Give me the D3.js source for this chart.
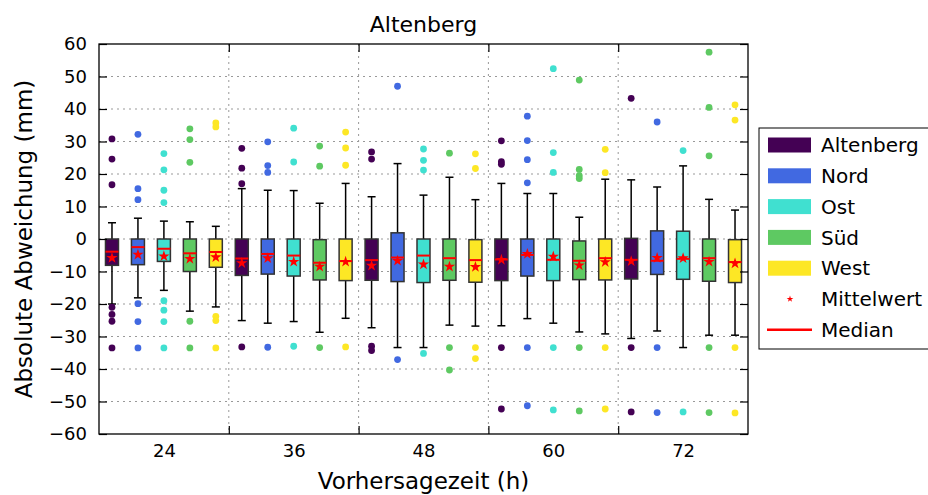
<!DOCTYPE html>
<html>
<head>
<meta charset="utf-8">
<script src="https://cdn.jsdelivr.net/npm/d3@7"></script>
<style>
  body { margin: 0; background: #fff; }
  svg text { font-family: "DejaVu Sans", sans-serif; fill: #000; }
</style>
</head>
<body>
<div id="chart"></div>
<script>
// data
var hours = [24, 36, 48, 60, 72];
var stations = ["Altenberg", "Nord", "Ost", "Süd", "West"];
var colors = ["#440154", "#4169e1", "#40e0d0", "#5ec962", "#fde725"];
var yTicks = [-60, -50, -40, -30, -20, -10, 0, 10, 20, 30, 40, 50, 60];

// one row per station, one column per lead time
var q3 = [
	[0, 0, 0, 0, 0.2],
	[0, 0, 1.9, 0, 2.5],
	[0, 0, 0, 0, 2.4],
	[0, -0.2, 0, -0.6, 0],
	[0, 0, -0.2, 0, -0.2]
];
var q1 = [
	[-8.1, -11.2, -12.7, -12.8, -12.3],
	[-7.9, -10.8, -13.1, -11.4, -10.9],
	[-6.9, -11.4, -13.4, -12.8, -12.4],
	[-10.0, -12.6, -12.7, -12.5, -13.0],
	[-8.7, -12.8, -13.3, -12.6, -13.4]
];
var medians = [
	[-3.9, -6.0, -6.5, -6.3, -6.4],
	[-2.5, -4.6, -5.7, -4.9, -6.7],
	[-3.0, -5.1, -5.1, -6.4, -6.1],
	[-4.4, -7.3, -5.9, -6.7, -5.9],
	[-4.0, -6.8, -6.5, -5.9, -7.1]
];
var means = [
	[-5.8, -7.4, -8.2, -6.4, -6.8],
	[-4.8, -5.9, -6.7, -4.6, -5.8],
	[-5.3, -7.0, -7.8, -5.4, -5.9],
	[-6.1, -8.5, -8.5, -8.1, -7.0],
	[-5.6, -7.0, -8.6, -7.1, -7.5]
];
var whiskHigh = [
	[5.0, 15.5, 13.0, 17.1, 18.2],
	[6.4, 15.0, 23.2, 14.0, 16.0],
	[5.5, 14.9, 13.5, 14.0, 22.5],
	[5.3, 11.0, 19.0, 6.7, 12.2],
	[3.9, 17.1, 12.1, 18.4, 8.9]
];
var whiskLow = [
	[-20.0, -25.1, -27.3, -26.7, -30.6],
	[-18.1, -25.9, -33.4, -24.5, -28.3],
	[-15.8, -25.4, -33.4, -25.9, -33.4],
	[-22.2, -28.7, -26.5, -28.6, -29.6],
	[-20.9, -24.4, -26.8, -29.2, -29.6]
];
var outliers = [
	[[30.8, 24.6, 16.7, -21.0, -23.2, -25.3, -33.5], [27.9, 21.8, 17.0, -33.2], [26.8, 24.6, -33.0, -34.3], [30.2, 23.8, 23.0, -33.4, -52.3], [43.3, -33.4, -53.2]],
	[[32.2, 15.5, 12.1, -19.9, -25.4, -33.5], [29.9, 22.6, 20.5, -33.3], [47.0, -37.1], [37.8, 30.3, 24.4, 17.3, -33.4, -51.3], [36.0, -33.4, -53.4]],
	[[26.3, 21.3, 15.0, 11.2, -19.0, -21.9, -25.4, -33.5], [34.1, 23.7, -33.0], [27.7, 24.2, 21.2, -35.2], [52.4, 26.6, 20.5, -33.4, -52.6], [27.2, -53.2]],
	[[33.9, 30.6, 23.6, -25.3, -33.5], [28.6, 22.4, -33.4], [26.4, -33.4, -40.3], [48.9, 21.4, 19.5, 18.6, -33.4, -52.9], [57.5, 40.5, 25.6, -33.4, -53.4]],
	[[35.7, 34.5, -23.8, -25.1, -33.5], [32.9, 28.0, 22.7, -33.2], [26.2, 21.7, -33.4, -36.8], [27.6, 20.4, -33.4, -52.3], [41.3, 36.6, -33.4, -53.5]]
];

var width = 928, height = 495;
var plotL = 99, plotR = 748, plotT = 44, plotB = 434;
var offset = 2.4, boxW = 13, capW = 8;

var x = d3.scaleLinear().domain([18, 78]).range([plotL, plotR]);
var y = d3.scaleLinear().domain([-60, 60]).range([plotB, plotT]);

var svg = d3.select("#chart")
	.append("svg")
	.attr("width", width)
	.attr("height", height);

// flatten into one record per box
var boxes = [];
stations.forEach(function (s, i) {
	hours.forEach(function (h, j) {
		boxes.push({
			i: i, pos: h + (i - 2) * offset,
			q1: q1[i][j], q3: q3[i][j], med: medians[i][j], mean: means[i][j],
			lo: whiskLow[i][j], hi: whiskHigh[i][j], out: outliers[i][j]
		});
	});
});

// grid
svg.append("g").selectAll("line")
	.data(yTicks.slice(1, -1))
	.enter().append("line")
		.attr("x1", plotL).attr("x2", plotR)
		.attr("y1", function (d) { return y(d); })
		.attr("y2", function (d) { return y(d); })
		.attr("stroke", "#999").attr("stroke-width", 1)
		.attr("stroke-dasharray", "2,4");

var seps = [30, 42, 54, 66];
svg.append("g").selectAll("line")
	.data(seps)
	.enter().append("line")
		.attr("x1", function (d) { return x(d); })
		.attr("x2", function (d) { return x(d); })
		.attr("y1", plotT).attr("y2", plotB)
		.attr("stroke", "#999").attr("stroke-width", 1)
		.attr("stroke-dasharray", "2,4");

// whiskers
var g = svg.append("g");
g.selectAll(".whisker")
	.data(boxes)
	.enter().append("line")
		.attr("x1", function (d) { return x(d.pos); })
		.attr("x2", function (d) { return x(d.pos); })
		.attr("y1", function (d) { return y(d.lo); })
		.attr("y2", function (d) { return y(d.hi); })
		.attr("stroke", "#000").attr("stroke-width", 1.5);

["lo", "hi"].forEach(function (k) {
	g.selectAll(".cap-" + k)
		.data(boxes)
		.enter().append("line")
			.attr("x1", function (d) { return x(d.pos) - capW / 2; })
			.attr("x2", function (d) { return x(d.pos) + capW / 2; })
			.attr("y1", function (d) { return y(d[k]); })
			.attr("y2", function (d) { return y(d[k]); })
			.attr("stroke", "#000").attr("stroke-width", 1.5);
});

// boxes
g.selectAll(".box")
	.data(boxes)
	.enter().append("rect")
		.attr("x", function (d) { return x(d.pos) - boxW / 2; })
		.attr("width", boxW)
		.attr("y", function (d) { return y(d.q3); })
		.attr("height", function (d) { return y(d.q1) - y(d.q3); })
		.attr("fill", function (d) { return colors[d.i]; })
		.attr("stroke", "#333").attr("stroke-width", 1.5);

// medians
g.selectAll(".median")
	.data(boxes)
	.enter().append("line")
		.attr("x1", function (d) { return x(d.pos) - boxW / 2; })
		.attr("x2", function (d) { return x(d.pos) + boxW / 2; })
		.attr("y1", function (d) { return y(d.med); })
		.attr("y2", function (d) { return y(d.med); })
		.attr("stroke", "red").attr("stroke-width", 2);

// means
var star = d3.symbol().type(d3.symbolStar).size(40);
g.selectAll(".mean")
	.data(boxes)
	.enter().append("path")
		.attr("d", star)
		.attr("transform", function (d) { return "translate(" + x(d.pos) + "," + y(d.mean) + ")"; })
		.attr("fill", "red");

// outliers
var pts = [];
boxes.forEach(function (b) {
	b.out.forEach(function (v) { pts.push({ i: b.i, pos: b.pos, v: v }); });
});
g.selectAll(".flier")
	.data(pts)
	.enter().append("circle")
		.attr("cx", function (d) { return x(d.pos); })
		.attr("cy", function (d) { return y(d.v); })
		.attr("r", 3.4)
		.attr("fill", function (d) { return colors[d.i]; });

// axes, ticks point inward
svg.append("g")
	.attr("transform", "translate(" + plotL + ",0)")
	.call(d3.axisLeft(y).tickValues(yTicks).tickSize(-8).tickPadding(12))
	.call(function (a) { a.select(".domain").remove(); })
	.selectAll("text").style("font-size", "18px");

svg.append("g")
	.attr("transform", "translate(" + plotR + ",0)")
	.call(d3.axisRight(y).tickValues(yTicks).tickSize(-8).tickFormat(""))
	.call(function (a) { a.select(".domain").remove(); });

svg.append("g")
	.attr("transform", "translate(0," + plotB + ")")
	.call(d3.axisBottom(x).tickValues(hours).tickSize(0).tickPadding(10))
	.call(function (a) { a.select(".domain").remove(); })
	.selectAll("text").style("font-size", "18px");

svg.append("g")
	.attr("transform", "translate(0," + plotB + ")")
	.call(d3.axisBottom(x).tickValues(seps).tickSize(-8).tickFormat(""))
	.call(function (a) { a.select(".domain").remove(); });

svg.append("g")
	.attr("transform", "translate(0," + plotT + ")")
	.call(d3.axisTop(x).tickValues(seps).tickSize(-8).tickFormat(""))
	.call(function (a) { a.select(".domain").remove(); });

svg.selectAll(".tick line").attr("stroke-width", 1.2);

svg.append("rect")
	.attr("x", plotL).attr("y", plotT)
	.attr("width", plotR - plotL).attr("height", plotB - plotT)
	.attr("fill", "none").attr("stroke", "#000").attr("stroke-width", 1.3);

// titles
svg.append("text")
	.attr("x", (plotL + plotR) / 2).attr("y", 32)
	.attr("text-anchor", "middle")
	.style("font-size", "22px")
	.text("Altenberg");

svg.append("text")
	.attr("x", (plotL + plotR) / 2).attr("y", 489)
	.attr("text-anchor", "middle")
	.style("font-size", "23px")
	.text("Vorhersagezeit (h)");

svg.append("text")
	.attr("transform", "translate(32," + (plotT + plotB) / 2 + ") rotate(-90)")
	.attr("text-anchor", "middle")
	.style("font-size", "23px")
	.text("Absolute Abweichung (mm)");

// legend
var lg = svg.append("g").attr("transform", "translate(759,128)");
lg.append("rect")
	.attr("width", 200).attr("height", 221)
	.attr("fill", "#fff").attr("stroke", "#000").attr("stroke-width", 1);

var rowH = 30.8;
var labels = stations.concat(["Mittelwert", "Median"]);
var rows = lg.selectAll(".row")
	.data(labels)
	.enter().append("g")
		.attr("transform", function (d, k) { return "translate(0," + (17 + k * rowH) + ")"; });

rows.filter(function (d, k) { return k < 5; })
	.append("rect")
		.attr("x", 9).attr("y", -7.5)
		.attr("width", 43).attr("height", 15)
		.attr("fill", function (d, k) { return colors[k]; });

rows.filter(function (d) { return d === "Mittelwert"; })
	.append("path")
		.attr("d", d3.symbol().type(d3.symbolStar).size(14))
		.attr("transform", "translate(31,0)")
		.attr("fill", "red");

rows.filter(function (d) { return d === "Median"; })
	.append("line")
		.attr("x1", 8).attr("x2", 53)
		.attr("stroke", "red").attr("stroke-width", 2.5);

rows.append("text")
	.attr("x", 62).attr("dy", "0.36em")
	.style("font-size", "20px")
	.text(function (d) { return d; });
</script>
</body>
</html>
